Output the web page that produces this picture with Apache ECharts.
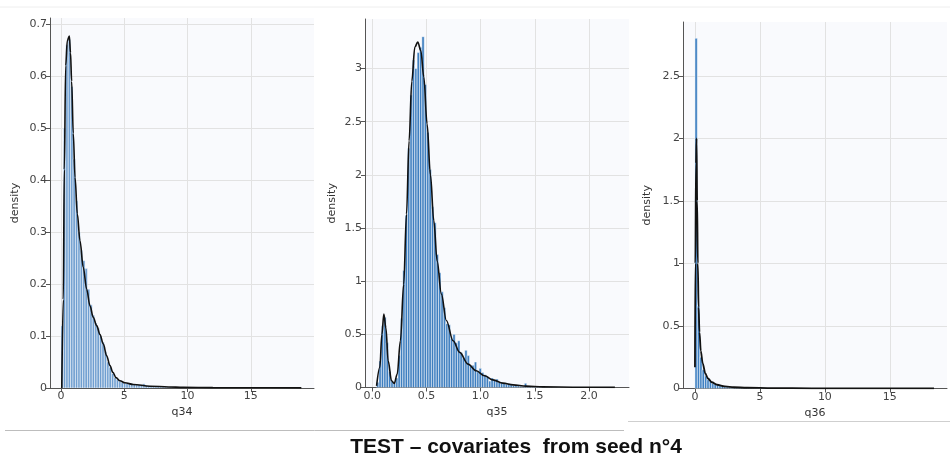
<!DOCTYPE html>
<html><head><meta charset="utf-8">
<script src="https://cdn.jsdelivr.net/npm/echarts@6/dist/echarts.min.js"></script>
<style>html,body{margin:0;padding:0;background:#fff}#c{width:950px;height:464px}</style>
</head><body><div id="c"></div>
<script>
const titleText = 'TEST – covariates  from seed n°4';
const xNames = ['q34', 'q35', 'q36'];
const yName = 'density';

// q34 histogram (bins of width 0.19 starting at 0)
const q34BinStart = 0, q34BinWidth = 0.19;
const q34Hist = [
  0.12, 0.50, 0.66, 0.67, 0.58, 0.44, 0.36, 0.30, 0.265, 0.245,
  0.23, 0.19, 0.16, 0.14, 0.125, 0.115, 0.10, 0.088, 0.07, 0.05,
  0.04, 0.028, 0.02, 0.016, 0.013, 0.011, 0.010, 0.009, 0.008, 0.008,
  0.007, 0.006, 0.006, 0.005, 0.008, 0.005, 0.004, 0.004, 0.003, 0.003,
  0.003, 0.0025, 0.0025, 0.002, 0.002, 0.002, 0.0018, 0.0015, 0.0015, 0.0012,
  0.0012, 0.001, 0.001, 0.001, 0.0009, 0.0008, 0.0008, 0.0007, 0.0007, 0.0006,
  0.0006, 0.0005, 0.0005, 0.0005, 0.0004, 0.0004, 0.0004, 0.0004, 0.0003, 0.0003,
  0.0003, 0.0003, 0.0003, 0.0002, 0.0002, 0.0002, 0.0002, 0.0002, 0.0002, 0.0002,
  0.0002, 0.0001, 0.0001, 0.0001, 0.0001, 0.0001, 0.0001, 0.0001, 0.0001, 0.0001,
  0.0001, 0.0001, 0.0001, 0.0001, 0.0001, 0.0001, 0.0001, 0.0001, 0.0001, 0.0001
];
const q34Kde = [
  [0.06, 0], [0.18, 0.17], [0.26, 0.42], [0.37, 0.62], [0.5, 0.668], [0.66, 0.677],
  [0.75, 0.645], [0.84, 0.59], [0.97, 0.49], [1.11, 0.405], [1.29, 0.335], [1.5, 0.283],
  [1.76, 0.232], [2.03, 0.19], [2.29, 0.158], [2.55, 0.136], [2.82, 0.12], [3.08, 0.103],
  [3.34, 0.085], [3.61, 0.062], [3.87, 0.043], [4.1, 0.03], [4.35, 0.02], [4.66, 0.014],
  [5.05, 0.01], [5.71, 0.0068], [7.03, 0.0035], [8.5, 0.002], [9.66, 0.0012], [12, 0.0007],
  [15, 0.0004], [19, 0.0002]
];

// q35 histogram (bins of width 0.022 starting at 0.04)
const q35BinStart = 0.04, q35BinWidth = 0.022;
const q35Hist = [
  0.05, 0.25, 0.58, 0.66, 0.42, 0.15, 0.06, 0.04, 0.09, 0.30,
  0.65, 1.10, 1.62, 2.25, 2.75, 3.08, 3.00, 3.15, 3.20, 3.30,
  2.85, 2.40, 2.05, 1.70, 1.55, 1.25, 1.08, 0.90, 0.75, 0.60,
  0.59, 0.46, 0.50, 0.42, 0.44, 0.33, 0.28, 0.35, 0.30, 0.20,
  0.21, 0.24, 0.15, 0.18, 0.14, 0.12, 0.10, 0.06, 0.09, 0.07,
  0.08, 0.05, 0.045, 0.04, 0.03, 0.035, 0.025, 0.02, 0.022, 0.015,
  0.012, 0.01, 0.04, 0.008, 0.01, 0.006, 0.007, 0.005, 0.006, 0.004,
  0.005, 0.003, 0.004, 0.003, 0.002, 0.003, 0.002, 0.002, 0.001, 0.002,
  0.001, 0.001, 0.002, 0.001, 0.001, 0.001, 0.001, 0.001, 0.0005, 0.001,
  0.0005, 0.0005, 0.001, 0.0005, 0.0005, 0.0005, 0.0005, 0.0005, 0.0005, 0.0005
];
const q35Kde = [
  [0.04, 0.015], [0.07, 0.19], [0.089, 0.5], [0.107, 0.69], [0.126, 0.56], [0.147, 0.25],
  [0.178, 0.063], [0.203, 0.038], [0.23, 0.125], [0.26, 0.44], [0.29, 0.97], [0.316, 1.63],
  [0.34, 2.32], [0.365, 2.88], [0.393, 3.2], [0.42, 3.25], [0.448, 3.17], [0.476, 2.92],
  [0.506, 2.48], [0.537, 2.0], [0.568, 1.57], [0.599, 1.19], [0.638, 0.88], [0.684, 0.63],
  [0.746, 0.44], [0.807, 0.33], [0.884, 0.22], [0.96, 0.157], [1.037, 0.11], [1.114, 0.072],
  [1.206, 0.041], [1.3, 0.025], [1.42, 0.0125], [1.575, 0.006], [1.88, 0.003], [2.24, 0.001]
];

// q36 histogram (bins of width 0.184 starting at 0)
const q36BinStart = 0, q36BinWidth = 0.184;
const q36Hist = [
  2.80, 0.66, 0.25, 0.15, 0.10, 0.07, 0.055, 0.042, 0.035, 0.028,
  0.022, 0.018, 0.015, 0.012, 0.010, 0.009, 0.008, 0.007, 0.006, 0.006,
  0.005, 0.005, 0.004, 0.004, 0.004, 0.003, 0.003, 0.003, 0.003, 0.0025,
  0.0025, 0.002, 0.002, 0.002, 0.002, 0.0018, 0.0016, 0.0015, 0.0014, 0.0013,
  0.0012, 0.0011, 0.001, 0.001, 0.0009, 0.0009, 0.0008, 0.0008, 0.0007, 0.0007,
  0.0006, 0.0006, 0.0006, 0.0005, 0.0005, 0.0005, 0.0004, 0.0004, 0.0004, 0.0004,
  0.0003, 0.0003, 0.0003, 0.0003, 0.0003, 0.0003, 0.0003, 0.0003, 0.0002, 0.0002,
  0.0002, 0.0002, 0.0002, 0.0002, 0.0002, 0.0002, 0.0002, 0.0002, 0.0002, 0.0002,
  0.0001, 0.0001, 0.0001, 0.0001, 0.0001, 0.0001, 0.0001, 0.0001, 0.0001, 0.0001,
  0.0001, 0.0001, 0.0001, 0.0001, 0.0001, 0.0001, 0.0001, 0.0001, 0.0001, 0.0001
];
const q36Kde = [
  [0, 0.17], [0.03, 1.0], [0.08, 1.8], [0.12, 2.0], [0.17, 1.5], [0.22, 1.0], [0.28, 0.65],
  [0.35, 0.45], [0.45, 0.3], [0.6, 0.2], [0.8, 0.12], [1.0, 0.08], [1.3, 0.05], [1.7, 0.03],
  [2.3, 0.017], [3, 0.01], [4, 0.006], [6, 0.003], [9, 0.0015], [13, 0.0008], [18.4, 0.0003]
];

// tick labels
const q34XTicks = [0, 5, 10, 15];
const q34YTicks = [0, 0.1, 0.2, 0.3, 0.4, 0.5, 0.6, 0.7];
const q35XTicks = [0, 0.5, 1, 1.5, 2];
const q35YTicks = [0, 0.5, 1, 1.5, 2, 2.5, 3];
const q36XTicks = [0, 5, 10, 15];
const q36YTicks = [0, 0.5, 1, 1.5, 2, 2.5];

function bins(start, width, vals) {
  return vals.map((v, i) => [start + i * width, start + (i + 1) * width, v]);
}

function barRender(color) {
  return function (params, api) {
    const a = api.coord([api.value(0), api.value(2)]);
    const b = api.coord([api.value(1), 0]);
    return {
      type: 'rect',
      shape: { x: a[0], y: a[1], width: b[0] - a[0], height: b[1] - a[1] },
      style: { fill: color, stroke: '#ffffff', lineWidth: 0.5 }
    };
  };
}

const labelFont = 'DejaVu Sans';
function mkX(idx, min, max, ticks, name, fmt) {
  return {
    type: 'value', gridIndex: idx, min: min, max: max,
    name: name, nameLocation: 'middle', nameGap: 15,
    nameTextStyle: { color: '#333', fontSize: 11, fontFamily: labelFont },
    axisLine: { show: true, onZero: false, lineStyle: { color: '#555', width: 1 } },
    axisTick: { show: true, customValues: ticks, length: 4, lineStyle: { color: '#555' } },
    axisLabel: { customValues: ticks, formatter: fmt, color: '#444', fontSize: 11, fontFamily: labelFont, margin: 3 },
    splitLine: { show: true, lineStyle: { color: '#e2e2e2', width: 1 } }
  };
}
function mkY(idx, max, ticks, gap) {
  return {
    type: 'value', gridIndex: idx, min: 0, max: max,
    name: yName, nameLocation: 'middle', nameGap: gap,
    nameTextStyle: { color: '#333', fontSize: 11, fontFamily: labelFont },
    axisLine: { show: true, onZero: false, lineStyle: { color: '#555', width: 1 } },
    axisTick: { show: true, customValues: ticks, length: 4, lineStyle: { color: '#555' } },
    axisLabel: { customValues: ticks, formatter: v => String(v), color: '#444', fontSize: 11, fontFamily: labelFont, margin: 3 },
    splitLine: { show: true, lineStyle: { color: '#e2e2e2', width: 1 } }
  };
}

const gridBg = '#f9fafd';
const chart = echarts.init(document.getElementById('c'), null, { renderer: 'canvas' });
chart.setOption({
  animation: false,
  backgroundColor: '#ffffff',
  grid: [
    { left: 50, top: 18, width: 264, height: 370, show: true, backgroundColor: gridBg, borderWidth: 0 },
    { left: 365, top: 19, width: 264, height: 368.5, show: true, backgroundColor: gridBg, borderWidth: 0 },
    { left: 683, top: 22, width: 264, height: 366.5, show: true, backgroundColor: gridBg, borderWidth: 0 }
  ],
  xAxis: [
    mkX(0, -0.87, 20.0, q34XTicks, xNames[0], v => String(v)),
    mkX(1, -0.067, 2.37, q35XTicks, xNames[1], v => v.toFixed(1)),
    mkX(2, -0.92, 19.4, q36XTicks, xNames[2], v => String(v))
  ],
  yAxis: [
    mkY(0, 0.7115, q34YTicks, 29),
    mkY(1, 3.466, q35YTicks, 27),
    mkY(2, 2.93, q36YTicks, 30)
  ],
  series: [
    { type: 'custom', xAxisIndex: 0, yAxisIndex: 0, data: bins(q34BinStart, q34BinWidth, q34Hist),
      encode: { x: [0, 1], y: 2 }, renderItem: barRender('#6f9ed0'), clip: true, silent: true },
    { type: 'line', xAxisIndex: 0, yAxisIndex: 0, data: q34Kde, showSymbol: false, smooth: 0.35,
      smoothMonotone: 'x', lineStyle: { color: '#111', width: 1.6 }, clip: true, silent: true },
    { type: 'custom', xAxisIndex: 1, yAxisIndex: 1, data: bins(q35BinStart, q35BinWidth, q35Hist),
      encode: { x: [0, 1], y: 2 }, renderItem: barRender('#3f7fc0'), clip: true, silent: true },
    { type: 'line', xAxisIndex: 1, yAxisIndex: 1, data: q35Kde, showSymbol: false, smooth: 0.35,
      smoothMonotone: 'x', lineStyle: { color: '#111', width: 1.6 }, clip: true, silent: true },
    { type: 'custom', xAxisIndex: 2, yAxisIndex: 2, data: bins(q36BinStart, q36BinWidth, q36Hist),
      encode: { x: [0, 1], y: 2 }, renderItem: barRender('#3f80c2'), clip: true, silent: true },
    { type: 'line', xAxisIndex: 2, yAxisIndex: 2, data: q36Kde, showSymbol: false, smooth: 0.3,
      smoothMonotone: 'x', lineStyle: { color: '#111', width: 1.8 }, clip: true, silent: true }
  ],
  graphic: [
    { type: 'line', shape: { x1: 0, y1: 7, x2: 950, y2: 7 }, style: { stroke: '#eeeeee', lineWidth: 1 }, silent: true },
    { type: 'line', shape: { x1: 5, y1: 430.5, x2: 624, y2: 430.5 }, style: { stroke: '#bdbdbd', lineWidth: 1 }, silent: true },
    { type: 'line', shape: { x1: 628, y1: 421.5, x2: 950, y2: 421.5 }, style: { stroke: '#cfcfcf', lineWidth: 1 }, silent: true },
    { type: 'text', x: 516, y: 447, silent: true,
      style: { text: titleText, textAlign: 'center', textVerticalAlign: 'middle', fill: '#111',
        font: 'bold 21px "Liberation Sans Narrow", "Liberation Sans", Arial, sans-serif' } }
  ]
});
</script>
</body></html>
